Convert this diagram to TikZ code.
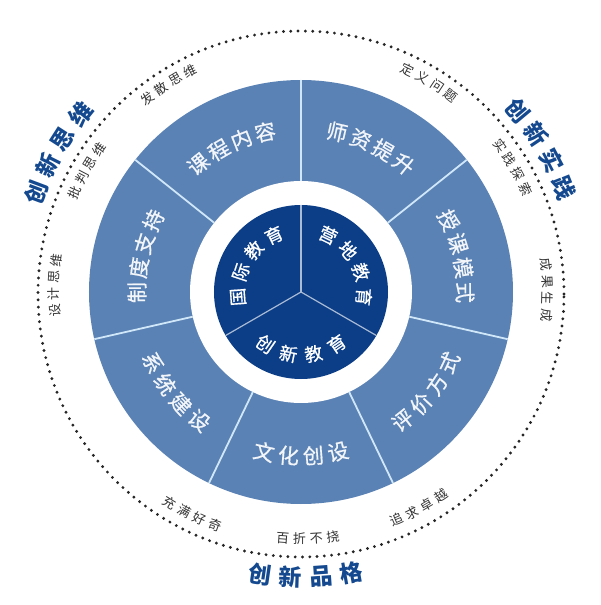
\documentclass[tikz,border=0pt]{standalone}
\usepackage{fontspec}
\usepackage{xcolor}
\usepackage{tikz}
\newfontfamily\cjk{Noto Sans CJK SC}
\newfontfamily\cjkmed[FakeBold=0.7]{Noto Sans CJK SC}
\definecolor{ringblue}{HTML}{5B82B4}
\definecolor{coreblue}{HTML}{0C3E87}
\definecolor{lineblue}{HTML}{CFE7F8}
\definecolor{titleblue}{HTML}{14498F}
\definecolor{notegray}{HTML}{333333}

% one node per character along an arc
% [style]{name}{radius}{mid angle}{step}{1 = top, -1 = bottom}{chars}
\newcommand{\arctext}[7][]{%
  \foreach \ch [count=\i] in {#7} {\xdef\nch{\i}}%
  \foreach \ch [count=\i] in {#7} {%
    \pgfmathsetmacro{\ang}{#4+(#6)*#5*((\nch+1)/2-\i)}%
    \node[#1, rotate={\ang-(#6)*90}] (#2-\i) at (\ang:#3) {\ch};}}

\begin{document}
\begin{tikzpicture}[x=1pt, y=1pt,
  seg/.style={font=\cjkmed\fontsize{21}{21}\selectfont, text=white!92!ringblue, inner sep=0pt},
  core/.style={font=\cjkmed\fontsize{18}{18}\selectfont, text=white, inner sep=0pt},
  note/.style={font=\cjk\fontsize{13}{13}\selectfont, text=notegray, inner sep=0pt},
  title/.style={font=\cjk\bfseries\fontsize{23}{23}\selectfont, text=titleblue, inner sep=0pt}]
\useasboundingbox (-301,-313) rectangle (299,292);
\fill[ringblue] (0,0) circle (212);
\fill[white] (0,0) circle (111);
\fill[coreblue] (0,0) circle (87);
\foreach \k in {0,...,6}
  \draw[lineblue, line width=1.8pt] (90+\k*360/7:111) -- (90+\k*360/7:212);
\foreach \k in {90,210,330}
  \draw[coreblue!35!white, line width=1.2pt] (0,0) -- (\k:87);
\draw[black!85, line width=3.2pt, line cap=round, dash pattern=on 0pt off 7.3pt]
  (0,-2) circle (263);

% core
\arctext[core]{gj}{63}{150}{23}{1}{国,际,教,育}
\arctext[core]{yd}{63}{30}{23}{1}{营,地,教,育}
\arctext[core]{cx}{63}{270}{23}{-1}{创,新,教,育}

% ring
\arctext[seg]{kc}{164}{115.71}{8.7}{1}{课,程,内,容}
\arctext[seg]{sz}{164}{64.29}{8.7}{1}{师,资,提,升}
\arctext[seg]{sk}{164}{12.86}{8.7}{1}{授,课,模,式}
\arctext[seg]{pj}{164}{-38.57}{8.7}{-1}{评,价,方,式}
\arctext[seg]{wh}{164}{-90}{8.7}{-1}{文,化,创,设}
\arctext[seg]{xt}{164}{-141.43}{8.7}{-1}{系,统,建,设}
\arctext[seg]{zd}{164}{167.14}{8.7}{1}{制,度,支,持}

% notes
\arctext[note]{fs}{247}{122.5}{3.9}{1}{发,散,思,维}
\arctext[note]{pp}{247}{150.5}{3.9}{1}{批,判,思,维}
\arctext[note]{sj}{247}{178.5}{3.9}{1}{设,计,思,维}
\arctext[note]{dy}{247}{58.5}{3.9}{1}{定,义,问,题}
\arctext[note]{sc}{247}{30.5}{3.9}{1}{实,践,探,索}
\arctext[note]{cg}{247}{0.5}{3.9}{1}{成,果,生,成}
\arctext[note]{cm}{248}{244}{3.9}{-1}{充,满,好,奇}
\arctext[note]{bz}{247}{271.6}{3.9}{-1}{百,折,不,挠}
\arctext[note]{zq}{247}{298.6}{3.9}{-1}{追,求,卓,越}

% titles
\arctext[title]{sw}{283}{150.3}{6.1}{1}{创,新,思,维}
\arctext[title]{sj}{283}{30.8}{6.1}{1}{创,新,实,践}
\arctext[title]{pg}{285}{271}{6.1}{-1}{创,新,品,格}
\end{tikzpicture}
\end{document}
